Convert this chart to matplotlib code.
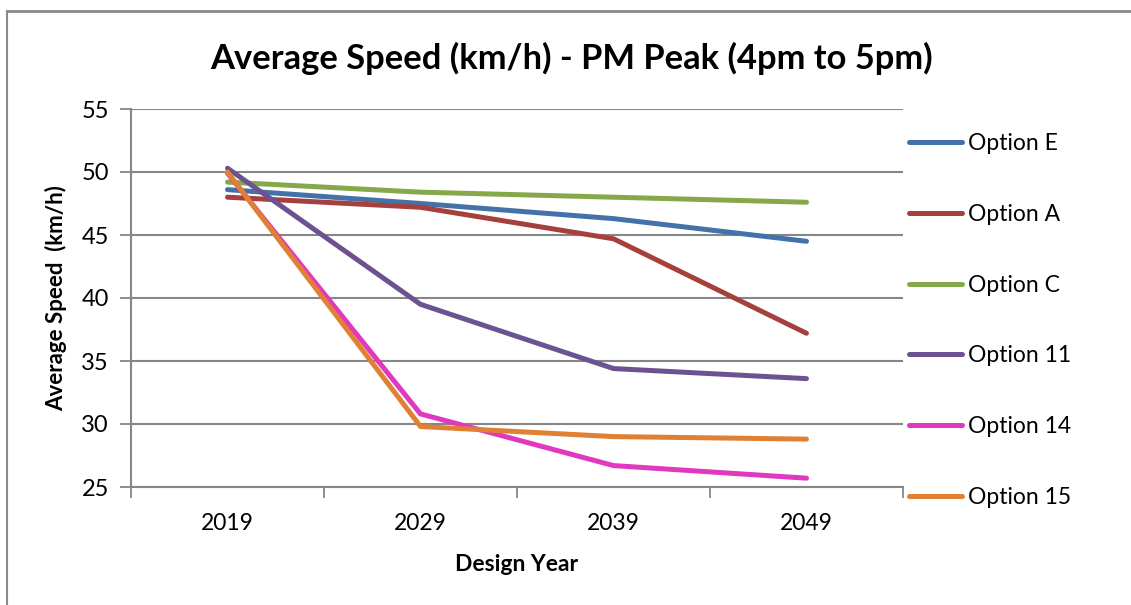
import matplotlib.pyplot as plt
from matplotlib.lines import Line2D

plt.rcParams['font.family'] = ['Lato', 'DejaVu Sans']

years = ['2019', '2029', '2039', '2049']
option_e = [48.6, 47.5, 46.3, 44.5]
option_a = [48.0, 47.2, 44.7, 37.2]
option_c = [49.2, 48.4, 48.0, 47.6]
option_11 = [50.3, 39.5, 34.4, 33.6]
option_14 = [49.9, 30.8, 26.7, 25.7]
option_15 = [50.0, 29.8, 29.0, 28.8]

names = ['Option E', 'Option A', 'Option C', 'Option 11', 'Option 14', 'Option 15']
series = [option_e, option_a, option_c, option_11, option_14, option_15]
colors = ['#4471A7', '#A6403D', '#87A84A', '#6D5291', '#E038BF', '#E08034']

fig = plt.figure(figsize=(11.31, 6.05), dpi=100)
ax = fig.add_axes([131 / 1131, 118 / 605, 772 / 1131, 378 / 605])

x = list(range(len(years)))
for vals, name, col in zip(series, names, colors):
    ax.plot(x, vals, color=col, lw=3.6, label=name, solid_capstyle='round',
            solid_joinstyle='round')

ax.set_xlim(-0.5, 3.5)
ax.set_ylim(25, 55)
ax.set_yticks(range(25, 56, 5))
ax.yaxis.grid(True, color='#868686', lw=1.5)
ax.set_axisbelow(True)

# category labels in the middle, tick marks on the boundaries
ax.set_xticks(x)
ax.set_xticklabels(years)
ax.set_xticks([-0.5, 0.5, 1.5, 2.5, 3.5], minor=True)
ax.tick_params(axis='x', which='major', length=0, pad=19, labelsize=16.5)
ax.tick_params(axis='x', which='minor', length=8, width=1.3, color='#868686')
ax.tick_params(axis='y', length=8, width=1.3, color='#868686', pad=8, labelsize=17)

for side in ['top', 'right']:
    ax.spines[side].set_visible(False)
for side in ['left', 'bottom']:
    ax.spines[side].set_color('#868686')
    ax.spines[side].set_linewidth(1.5)

ax.set_xlabel('Design Year', fontsize=16.5, fontweight='bold', labelpad=14)
ax.set_ylabel('Average Speed  (km/h)', fontsize=16, fontweight='bold', labelpad=10)
fig.text(571 / 1131, 1 - 58 / 605, 'Average Speed (km/h) - PM Peak (4pm to 5pm)',
         ha='center', va='center', fontsize=24.8, fontweight='bold')

ax.legend(loc='center left', bbox_to_anchor=(909 / 1131, 1 - 320.5 / 605),
          bbox_transform=fig.transFigure, frameon=False, fontsize=16.5,
          handlelength=2.3, handletextpad=0.28, labelspacing=2.18,
          borderpad=0, borderaxespad=0)

# outer chart frame
fig.add_artist(Line2D([7 / 1131, 7 / 1131], [0, 1 - 11 / 605], color='#8a8a8a', lw=1.5))
fig.add_artist(Line2D([7 / 1131, 1], [1 - 11 / 605, 1 - 11 / 605], color='#8a8a8a', lw=2))

fig.savefig('out.png', dpi=100)
